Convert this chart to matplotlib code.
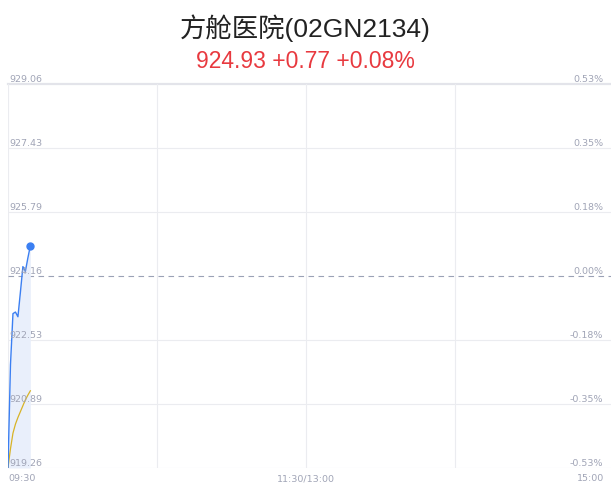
import matplotlib
matplotlib.use("Agg")
import matplotlib.pyplot as plt
from matplotlib.transforms import blended_transform_factory

# ── data ──────────────────────────────────────────
title_text = "方舱医院(02GN2134)"
last_price = 924.93
change     = 0.77
change_pct = 0.08
prev_close = 924.16

minutes = [0, 1, 2, 3, 4, 5, 6, 7, 8, 9]
price   = [919.27, 921.90, 923.20, 923.24, 923.12, 923.75, 924.40, 924.28, 924.62, 924.93]
avg     = [919.27, 919.75, 920.15, 920.38, 920.55, 920.70, 920.85, 921.00, 921.12, 921.23]

y_ticks     = [929.06, 927.43, 925.79, 924.16, 922.53, 920.89, 919.26]
y_labels    = ["929.06", "927.43", "925.79", "924.16", "922.53", "920.89", "919.26"]
pct_labels  = ["0.53%", "0.35%", "0.18%", "0.00%", "-0.18%", "-0.35%", "-0.53%"]
x_ticks     = [0, 120, 240]
x_labels    = ["09:30", "11:30/13:00", "15:00"]
x_grid      = [60, 120, 180]

# ── styles ────────────────────────────────────────
TITLE_FONTS = ["Liberation Sans", "Noto Sans CJK SC"]
LABEL_FONTS = ["DejaVu Sans"]
GRID_C     = "#ebecf0"
LABEL_C    = "#a0a4b6"
LINE_C     = "#3b7ff2"
AVG_C      = "#d8b326"
FILL_C     = "#e9effb"
W, H = 611, 492

fig = plt.figure(figsize=(W / 100, H / 100), dpi=100)
ax = fig.add_axes([8 / W, (H - 468) / H, (W - 8) / W, 384 / H])

px_per_min = 596 / 240
ax.set_xlim(0, (W - 8) / px_per_min)
ax.set_ylim(y_ticks[-1], y_ticks[0])
for s in ax.spines.values():
    s.set_visible(False)
ax.set_xticks([])
ax.set_yticks([])

# grid
for yv in y_ticks[1:]:
    if yv == prev_close:
        continue
    ax.axhline(yv, color=GRID_C, lw=0.8, zorder=0)
ax.axhline(y_ticks[0], color="#e3e4ea", lw=1.6, zorder=0, clip_on=False)
ax.axvline(0, color=GRID_C, lw=0.8, zorder=0)
for xv in x_grid:
    ax.axvline(xv, color=GRID_C, lw=0.8, zorder=0)

# prev close dashed
ax.axhline(prev_close, color="#9aa1b6", lw=0.8, ls=(0, (5, 4)), zorder=1)

# series
ax.fill_between(minutes, price, y_ticks[-1], color=FILL_C, lw=0, zorder=1)
ax.plot(minutes, avg, color=AVG_C, lw=0.9, zorder=2)
ax.plot(minutes, price, color=LINE_C, lw=1.0, zorder=3)
ax.plot(minutes[-1], price[-1], "o", color=LINE_C, ms=5, zorder=4)

# labels
tr_right = blended_transform_factory(ax.transAxes, ax.transData)
for yv, lab, pct in zip(y_ticks, y_labels, pct_labels):
    ax.text(0.4, yv, lab, fontsize=6.8, color=LABEL_C, ha="left", va="bottom",
            family=LABEL_FONTS, zorder=5)
    ax.text(1 - 8 / (W - 8), yv, pct, fontsize=6.8, color=LABEL_C, ha="right",
            va="bottom", family=LABEL_FONTS, transform=tr_right, zorder=5)

tr_x = blended_transform_factory(ax.transData, ax.transAxes)
for xv, lab in zip(x_ticks, x_labels):
    ha = "left" if xv == x_ticks[0] else ("right" if xv == x_ticks[-1] else "center")
    ax.text(xv, -0.028, lab, fontsize=6.8, color=LABEL_C, ha=ha, va="center",
            family=LABEL_FONTS, transform=tr_x)

# title
fig.text(0.5, 1 - 28 / H, title_text, fontsize=19, color="#222222",
         ha="center", va="center", family=TITLE_FONTS)
fig.text(0.5, 1 - 62 / H, f"{last_price:.2f} +{change:.2f} +{change_pct:.2f}%",
         fontsize=16.5, color="#e8393f", ha="center", va="center", family=TITLE_FONTS)

fig.savefig("out.png", dpi=100)
